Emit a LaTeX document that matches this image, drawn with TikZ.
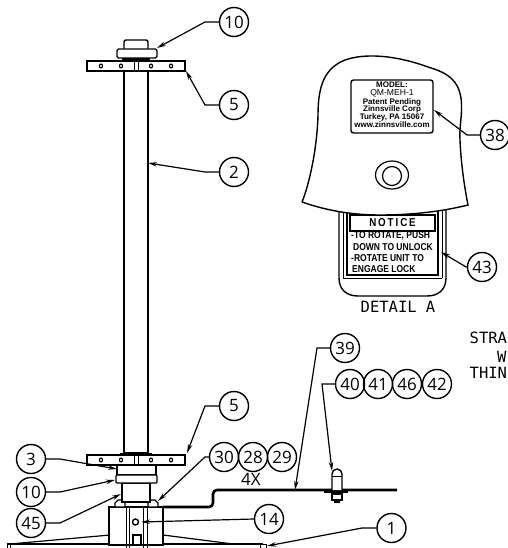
\documentclass[tikz,border=0pt]{standalone}
\usepackage{fontspec}
\usepackage{tikz}
\usetikzlibrary{arrows.meta}
\newfontfamily\cadfont{DejaVu Sans Mono}
\newfontfamily\balloonfont{Open Sans}
\newfontfamily\platefont{Liberation Sans}
\newfontfamily\stampfont[UprightFont=* Bold]{Liberation Sans}
\newfontfamily\noticefont[UprightFont=* Bold,FakeStretch=0.85]{Liberation Sans}

\begin{document}
\begin{tikzpicture}[
      x=1pt,y=-1pt,
      >={Stealth[length=9pt,width=4.5pt]},
      balloon/.style={draw,circle,line width=1.4pt,minimum size=29pt,inner sep=0pt,font=\balloonfont\fontsize{17}{17}\selectfont},
      leader/.style={->,line width=1.2pt},
      part/.style={draw,line width=1.4pt,fill=white},
      thin part/.style={line width=1pt},
      sheet/.style={line width=2.6pt,rounded corners=4pt},
      cad text/.style={font=\cadfont\fontsize{15.5}{15.5}\selectfont,inner sep=0pt},
      stamp text/.style={font=\stampfont\fontsize{8}{8}\selectfont,inner sep=0pt},
      notice text/.style={font=\noticefont\fontsize{10}{10}\selectfont,inner sep=0pt,anchor=west}
      ]
      \useasboundingbox (0,0) rectangle (507,548);
      % base plate
      \draw [line width=2.2pt] (7,544) -- (263,544);
      \draw [thin part] (7,548) -- (7,544) (10,548) -- (10,544) (260,548) -- (260,544) (266,548) -- (266,544) -- (260,544);
      \draw [line width=1.2pt] (110,535) -- (10,544) (163,535) -- (233,544);
      % base block
      \draw [part] (109,507) rectangle (163,545);
      \draw [thin part] (126,507) -- (126,548) (129,507) -- (129,548);
      \draw [thin part] (143,507) -- (143,548) (147,507) -- (147,548);
      \draw [part] (133,535) rectangle (141,545);
      \draw [line width=1.4pt] (135.5,522) circle (3);
      % nuts on the block
      \draw [part] (115,503) -- (118,500) -- (122,500) -- (125,503) -- (125,507) -- (115,507) -- cycle;
      \draw [part] (148,503) -- (151,500) -- (155,500) -- (158,503) -- (158,507) -- (148,507) -- cycle;
      % sheet
      \draw [sheet] (163,507) -- (213,507) -- (213,490) -- (397,490);
      % tube and collars
      \draw [part] (124,71) rectangle (148,453);
      \draw [part] (122,483) rectangle (150,502);
      \draw [part] (117,465) rectangle (156,475);
      \draw [part,rounded corners=1pt] (116,475) rectangle (157,483);
      \draw [line width=2.2pt] (120,454) -- (152,454);
      % lower and upper flange
      \foreach \y in {61,455} {
          \draw [part] (87,\y) rectangle (185,\y+10);
          \draw [thin part] (134,\y) -- (134,\y+10) (138,\y) -- (138,\y+10);
          \foreach \x in {101,121,151,171} {
              \draw [line width=1.1pt] (\x,\y+5) ellipse (1.5 and 2);
          }
      }
      % top cap
      \draw [line width=2.2pt] (122,59.5) -- (150,59.5);
      \draw [part,rounded corners=2pt] (124,49) -- (124,40) -- (148,40) -- (148,49);
      \draw [part,rounded corners=1.5pt] (117,49) rectangle (157,58);
      % hood
      \draw [part] (339,205) -- (339,278) .. controls (339,290) and (347,296) .. (358,296) -- (427,296) .. controls (438,296) and (446,290) .. (446,278) -- (446,205);
      \draw [thin part] (343,205) -- (343,278) (442,205) -- (442,278) (343,278) -- (442,278);
      \draw [line width=1.4pt] (347,205) rectangle (438,275);
      \draw [line width=1.4pt] (350,215) rectangle (435,231);
      \draw [part] (302,202) .. controls (309,185) and (317,150) .. (318,115)
        .. controls (318,85) and (325,68) .. (345,60)
        .. controls (365,53) and (395,55) .. (428,67)
        .. controls (448,73) and (458,80) .. (461,98)
        .. controls (463,115) and (459,125) .. (460,140)
        .. controls (461,165) and (465,190) .. (468,205)
        .. controls (440,212) and (410,215) .. (380,215)
        .. controls (350,215) and (325,210) .. (302,202);
      \draw [line width=1.2pt] (392,175) ellipse (16.5 and 14);
      \draw [line width=1.2pt] (392,176) circle (9.5);
      \draw [line width=1.4pt,rounded corners=2.5pt] (351,80) rectangle (433,133);
      % nameplate text
      \node [stamp text] (model) at (392,85) {MODEL:};
      \node [font=\platefont\fontsize{8.6}{8.6}\selectfont,inner sep=0pt] (modelno) at (392,93) {QM-MEH-1};
      \node [stamp text] (plate1) at (392,102) {Patent Pending};
      \node [stamp text] (plate2) at (392,109) {Zinnsville Corp};
      \node [stamp text] (plate3) at (392,117) {Turkey, PA 15067};
      \node [stamp text] (plate4) at (392,125) {www.zinnsville.com};
      % notice text
      \node [font=\noticefont\fontsize{11.5}{11.5}\selectfont,inner sep=0pt] (notice) at (392.5,223) {N\,O\,T\,I\,C\,E};
      \node [notice text] (line1) at (351,236) {-TO ROTATE, PUSH};
      \node [notice text] (line2) at (353,247) {DOWN TO UNLOCK};
      \node [notice text] (line3) at (351,258) {-ROTATE UNIT TO};
      \node [notice text] (line4) at (352,269) {ENGAGE LOCK};
      \node [cad text] (detail) at (398,307) {DETAIL A};
      % bolt through the sheet
      \draw [part] (332,490) -- (332,474) arc (180:360:5 and 5) -- (342,490);
      \draw [thin part] (332,476) -- (342,476);
      \draw [line width=2.2pt] (324,492) -- (348,492);
      \draw [part] (332,494) rectangle (342,500);
      \draw [part] (335,500) rectangle (339,502);
      % balloons
      \foreach \id/\N/\x/\y in {10a/10/234/22,5a/5/234/105,2/2/234/172,38/38/495/135,43/43/482/267,
          39/39/345/348,40/40/350/384,41/41/378/384,46/46/407/384,42/42/437/384,
          5b/5/234/406,30/30/224/457,28/28/253/457,29/29/282/457,
          3/3/31/459,10b/10/31/492,45/45/31/523,14/14/269/519,1/1/391.5/528} {
          \node [balloon] (b\id) at (\x,\y) {\N};
      }
      % other text
      \node [font=\balloonfont\fontsize{17}{17}\selectfont,inner sep=0pt] (fourx) at (251,479) {4X};
      \node [cad text,anchor=west] (stra) at (469.5,338) {STRA};
      \node [cad text,anchor=west] (wtext) at (497,357) {W};
      \node [cad text,anchor=west] (thin) at (469.5,373) {THIN};
      % leaders
      \coordinate (t10a) at (157,48);
      \coordinate (t5a) at (186,71);
      \coordinate (t2) at (148,163);
      \coordinate (t38) at (434,110);
      \coordinate (t43) at (441,252);
      \coordinate (t39) at (295,490);
      \coordinate (t40) at (332,471);
      \coordinate (t5b) at (187,453);
      \coordinate (t30) at (158,501);
      \coordinate (t3) at (117,469);
      \coordinate (t10b) at (115,480);
      \coordinate (t45) at (121,494);
      \coordinate (t14) at (141,522);
      \coordinate (t1) at (267,546);
      \draw [leader] (b10a.west) -- (205,22) -- (t10a);
      \draw [leader] (b5a.west) -- (205,105) -- (t5a);
      \draw [leader] (b2.west) -- (205,172) -- (t2);
      \draw [leader] (b38.west) -- (467,135) -- (t38);
      \draw [leader] (b43.west) -- (466,267) -- (t43);
      \draw [leader] (b39.west) -- (317,348) -- (t39);
      \draw [leader] (b40.west) -- (322,384) -- (t40);
      \draw [leader] (b5b.west) -- (205,406) -- (t5b);
      \draw [leader] (b30.west) -- (205,457) -- (t30);
      \draw [leader] (b3.east) -- (60,459) -- (t3);
      \draw [leader] (b10b.east) -- (60,492) -- (t10b);
      \draw [leader] (b45.east) -- (60,523) -- (t45);
      \draw [leader] (b14.west) -- (t14);
      \draw [leader] (b1.west) -- (362,528) -- (t1);
    \end{tikzpicture}
\end{document}
